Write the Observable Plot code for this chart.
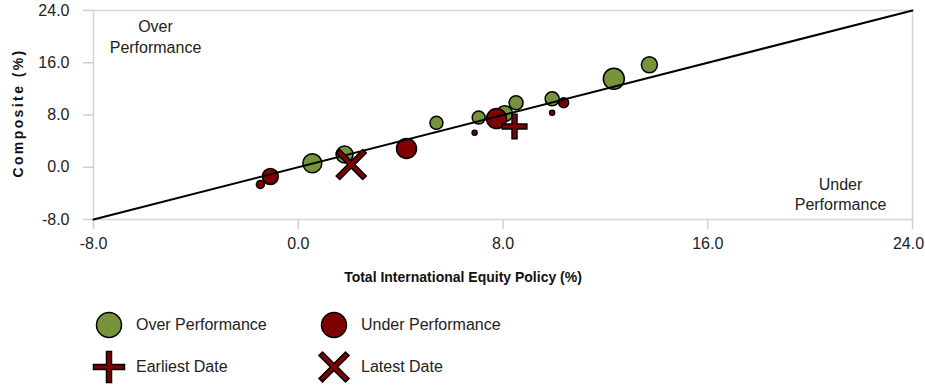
<!DOCTYPE html>
<html><head><meta charset="utf-8">
<script src="https://cdn.jsdelivr.net/npm/d3@7"></script>
<script src="https://cdn.jsdelivr.net/npm/@observablehq/plot@0.6"></script>
<style>
body{margin:0;background:#fff;font-family:Arial,"Liberation Sans",sans-serif;}
#wrap{position:relative;width:925px;height:385px;overflow:hidden;}
.lg-icon{position:absolute;width:34px;height:34px;}
.lg-text{position:absolute;font-size:16px;line-height:20px;color:#222;white-space:nowrap;}
</style></head><body><div id="wrap"><div id="chart"></div></div>
<script>
// ---- data ----
const policy    = [-1.48, -1.09, 0.55, 1.81, 4.23, 5.40, 6.89, 7.05, 8.06, 7.75, 8.51, 9.92, 9.92, 10.37, 12.33, 13.72];
const composite = [-2.64, -1.42, 0.60, 1.95, 2.87, 6.80, 5.30, 7.60, 8.20, 7.45, 9.87, 10.48, 8.34, 9.87, 13.54, 15.69];
const bubbleSize= [4, 8, 9.5, 8.5, 10, 6.5, 2.5, 6.5, 8, 10, 7, 7, 2.5, 5, 10.5, 8];
const group     = ["Under","Under","Over","Over","Under","Over","Under","Over","Over","Under","Over","Over","Under","Under","Over","Over"];
const groupNames = ["Over", "Under"];
const legendLabels = ["Over Performance", "Under Performance", "Earliest Date", "Latest Date"];
const markerPolicy    = [8.45, 2.07];   // Earliest Date, Latest Date
const markerComposite = [6.24, 0.42];
const axisTicks = [-8, 0, 8, 16, 24];
const refLine = [-8, 24];
const annotations = ["Over\nPerformance", "Under\nPerformance"];
const xLabel = "Total International Equity Policy (%)";
const yLabel = "Composite (%)";

const GREEN = "#77933C", RED = "#7F0000";
const fmt = d => d.toFixed(1);

const pts = policy.map((x, i) => ({x, y: composite[i], r: bubbleSize[i], g: group[i]}));
const line = refLine.map(v => ({x: v, y: v}));
const earliest = [{x: markerPolicy[0], y: markerComposite[0]}];
const latest = [{x: markerPolicy[1], y: markerComposite[1]}];

const chart = Plot.plot({
  width: 925, height: 295,
  marginLeft: 93, marginRight: 13, marginTop: 10, marginBottom: 76,
  style: {fontFamily: "Arial, 'Liberation Sans', sans-serif", fontSize: "16px", color: "#222", background: "#fff"},
  x: {domain: [-8, 24]},
  y: {domain: [-8, 24]},
  r: {type: "identity"},
  color: {domain: groupNames, range: [GREEN, RED]},
  marks: [
    Plot.frame({stroke: "#d4d4d4", strokeWidth: 1.5}),
    Plot.axisX({ticks: axisTicks, tickFormat: fmt, tickSize: 10, tickPadding: 8, stroke: "#cfcfcf", strokeWidth: 1.5, fill: "#222", label: null}),
    Plot.axisY({ticks: axisTicks, tickFormat: fmt, tickSize: 10, tickPadding: 14, stroke: "#cfcfcf", strokeWidth: 1.5, fill: "#222", label: null}),
    Plot.dot(pts, {x: "x", y: "y", r: "r", fill: "g", stroke: "black", strokeWidth: 1.5, sort: null}),
    Plot.line(line, {x: "x", y: "y", stroke: "black", strokeWidth: 2}),
    Plot.dot(earliest, {x: "x", y: "y", symbol: "plus", r: 6.4, stroke: "black", strokeWidth: 6.5, strokeLinecap: "square"}),
    Plot.dot(earliest, {x: "x", y: "y", symbol: "plus", r: 6.4, stroke: RED, strokeWidth: 3.5, strokeLinecap: "square"}),
    Plot.dot(latest, {x: "x", y: "y", symbol: "times", r: 10.5, stroke: "black", strokeWidth: 6.5, strokeLinecap: "square"}),
    Plot.dot(latest, {x: "x", y: "y", symbol: "times", r: 10.5, stroke: RED, strokeWidth: 3.5, strokeLinecap: "square"}),
    Plot.text([annotations[0]], {frameAnchor: "top-left", dx: 62, dy: 7, lineAnchor: "top", lineHeight: 1.3, textAnchor: "middle", fontSize: 16, fill: "#222"}),
    Plot.text([annotations[1]], {frameAnchor: "top-right", dx: -72, dy: 165, lineAnchor: "top", lineHeight: 1.25, textAnchor: "middle", fontSize: 16, fill: "#222"}),
    Plot.text([xLabel], {frameAnchor: "bottom", dx: -40, dy: 53, lineAnchor: "top", fontSize: 14, fontWeight: "bold", fill: "#111"}),
    Plot.text([yLabel], {frameAnchor: "left", dx: -75, dy: -2, rotate: -90, lineAnchor: "middle", textAnchor: "middle", fontSize: 14, fontWeight: "bold", fill: "#111"})
  ]
});
d3.select(chart).selectAll("text").filter(function(){ return this.textContent === yLabel; }).style("letter-spacing", "2.4px");
// keep the last x tick label inside the window
d3.select(chart).selectAll("g[aria-label='x-axis tick label'] text")
  .filter(function(){ return this.textContent === fmt(axisTicks[axisTicks.length - 1]); })
  .attr("dx", -4);
document.getElementById("chart").appendChild(chart);

// ---- legend ----
const wrap = document.getElementById("wrap");
const legendItems = [
  {label: legendLabels[0], kind: "circle", color: GREEN, cx: 109, cy: 325},
  {label: legendLabels[1], kind: "circle", color: RED, cx: 334, cy: 325},
  {label: legendLabels[2], kind: "plus", color: RED, cx: 109, cy: 367},
  {label: legendLabels[3], kind: "times", color: RED, cx: 334, cy: 367}
];
legendItems.forEach(it => {
  const svg = d3.create("svg").attr("class", "lg-icon").attr("viewBox", "-17 -17 34 34")
    .style("left", (it.cx - 17) + "px").style("top", (it.cy - 17) + "px");
  if (it.kind === "circle") {
    svg.append("circle").attr("r", 12.5).attr("fill", it.color).attr("stroke", "black").attr("stroke-width", 1.5);
  } else {
    const d = it.kind === "plus" ? "M-13,0H13M0,-13V13" : "M-11.5,-11.5L11.5,11.5M-11.5,11.5L11.5,-11.5";
    svg.append("path").attr("d", d).attr("stroke", "black").attr("stroke-width", 6.5).attr("stroke-linecap", "square").attr("fill", "none");
    svg.append("path").attr("d", d).attr("stroke", it.color).attr("stroke-width", 3.5).attr("stroke-linecap", "square").attr("fill", "none");
  }
  wrap.appendChild(svg.node());
  const t = document.createElement("div");
  t.className = "lg-text";
  t.textContent = it.label;
  t.style.left = (it.cx + 27) + "px";
  t.style.top = (it.cy - 10) + "px";
  wrap.appendChild(t);
});
</script></body></html>
